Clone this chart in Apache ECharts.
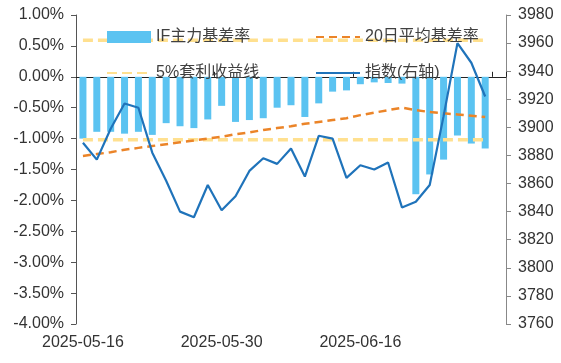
<!DOCTYPE html>
<html>
<head>
<meta charset="utf-8">
<script src="https://cdn.jsdelivr.net/npm/echarts@6/dist/echarts.min.js"></script>
<style>
html,body{margin:0;padding:0;background:#fff;}
#chart{width:561px;height:363px;}
</style>
</head>
<body>
<div id="chart"></div>
<script>
// ---- data ----
var dates = ['2025-05-16','2025-05-19','2025-05-20','2025-05-21','2025-05-22','2025-05-23',
  '2025-05-26','2025-05-27','2025-05-28','2025-05-29','2025-05-30','2025-06-03','2025-06-04',
  '2025-06-05','2025-06-06','2025-06-09','2025-06-10','2025-06-11','2025-06-12','2025-06-13',
  '2025-06-16','2025-06-17','2025-06-18','2025-06-19','2025-06-20','2025-06-23','2025-06-24',
  '2025-06-25','2025-06-26','2025-06-27','2025-06-30'];
var basisRate = [-1.00,-0.89,-0.89,-0.92,-0.89,-0.94,-0.75,-0.80,-0.83,-0.69,-0.47,-0.73,-0.70,
  -0.67,-0.50,-0.46,-0.65,-0.43,-0.24,-0.22,-0.12,-0.09,-0.10,-0.11,-1.90,-1.58,-1.34,-0.95,-1.08,-1.16];
var avg20Rate = [-1.28,-1.25,-1.22,-1.18,-1.15,-1.12,-1.09,-1.06,-1.03,-1.00,-0.97,-0.93,-0.90,
  -0.86,-0.83,-0.80,-0.76,-0.73,-0.70,-0.67,-0.62,-0.58,-0.54,-0.50,-0.54,-0.57,-0.59,-0.61,-0.63,-0.65];
var arbUpper = [0.59,0.59,0.59,0.59,0.59,0.59,0.59,0.59,0.59,0.59,0.59,0.59,0.59,0.59,0.59,
  0.59,0.59,0.59,0.59,0.59,0.59,0.59,0.59,0.59,0.59,0.59,0.59,0.59,0.59,0.59];
var arbLower = [-1.02,-1.02,-1.02,-1.02,-1.02,-1.02,-1.02,-1.02,-1.02,-1.02,-1.02,-1.02,-1.02,-1.02,-1.02,
  -1.02,-1.02,-1.02,-1.02,-1.02,-1.02,-1.02,-1.02,-1.02,-1.02,-1.02,-1.02,-1.02,-1.02,-1.02];
var indexValues = [3889,3877,3899,3917,3914,3882,3862,3840,3836,3859,3841,3851,3869,3878,3874,
  3885,3865,3894,3892,3864,3873,3870,3875,3843,3847,3859,3908,3960,3946,3922];
var leftTicks = {min:-4, max:1, interval:0.5};
var rightTicks = {min:3760, max:3980, interval:20};
var names = ['IF主力基差率','20日平均基差率','5%套利收益线','指数(右轴)'];

var FONT = '"Liberation Sans", Arial, "Noto Sans CJK SC", sans-serif';
var chart = echarts.init(document.getElementById('chart'), null, {renderer:'canvas'});

function legendAt(name, left, top, isLine) {
  var l = {
    data:[name], left:left, top:top, itemWidth:44, itemHeight:12, itemGap:0,
    textStyle:{fontSize:16, color:'#404040', fontFamily:FONT},
    selectedMode:false
  };
  if (isLine) { l.itemStyle = {opacity:0, borderWidth:0}; } else { l.icon = 'rect'; }
  return l;
}

var option = {
  animation:false,
  backgroundColor:'#fff',
  textStyle:{fontFamily:FONT},
  grid:{left:76, right:55, top:15, bottom:39, containLabel:false},
  legend:[
    legendAt(names[0], 102, 24, false),
    legendAt(names[1], 310, 24, true),
    legendAt(names[2], 101, 60, true),
    legendAt(names[3], 310, 60, true)
  ],
  xAxis:[
    {
      type:'category', data:dates, position:'bottom', boundaryGap:true,
      axisLine:{show:false, onZero:false},
      axisTick:{show:false},
      axisLabel:{
        interval:function(i){return i % 10 === 0 && i < 30;},
        fontSize:16, color:'#333', margin:11, fontFamily:FONT
      },
      splitLine:{show:false}
    },
    {
      type:'category', data:dates, position:'bottom', boundaryGap:true,
      axisLine:{show:true, onZero:true, onZeroAxisIndex:0, lineStyle:{color:'#222', width:1}},
      axisTick:{show:true, inside:true, length:5, lineStyle:{color:'#222'},
        interval:function(i){return i % 10 === 0 && i > 0;}},
      axisLabel:{show:false},
      splitLine:{show:false}
    }
  ],
  yAxis:[
    {
      type:'value', position:'left', min:leftTicks.min, max:leftTicks.max, interval:leftTicks.interval,
      axisLine:{show:true, lineStyle:{color:'#555', width:1}},
      axisTick:{show:true, inside:false, length:5, lineStyle:{color:'#555'}},
      axisLabel:{formatter:function(v){return v.toFixed(2)+'%';}, fontSize:16, color:'#333', margin:12, fontFamily:FONT},
      splitLine:{show:false}
    },
    {
      type:'value', position:'right', min:rightTicks.min, max:rightTicks.max, interval:rightTicks.interval,
      axisLine:{show:true, lineStyle:{color:'#888', width:1}},
      axisTick:{show:true, inside:false, length:5, lineStyle:{color:'#888'}},
      axisLabel:{formatter:function(v){return String(v);}, fontSize:16, color:'#333', margin:12, fontFamily:FONT},
      splitLine:{show:false}
    }
  ],
  series:[
    {
      name:names[0], type:'bar', data:basisRate, xAxisIndex:0, yAxisIndex:0,
      barWidth:7, itemStyle:{color:'#5BC3F1'}, z:2
    },
    {
      name:names[2], type:'line', data:arbUpper, xAxisIndex:0, yAxisIndex:0,
      symbol:'none', lineStyle:{color:'#FFE08F', width:3.5, type:[10,5]}, itemStyle:{color:'#FFE08F'}, z:3
    },
    {
      name:names[2], type:'line', data:arbLower, xAxisIndex:0, yAxisIndex:0,
      symbol:'none', lineStyle:{color:'#FFE08F', width:3.5, type:[10,5]}, itemStyle:{color:'#FFE08F'}, z:3
    },
    {
      name:names[1], type:'line', data:avg20Rate, xAxisIndex:0, yAxisIndex:0,
      symbol:'none', lineStyle:{color:'#EB8428', width:2.5, type:[8,5]}, itemStyle:{color:'#EB8428'}, z:4
    },
    {
      name:names[3], type:'line', data:indexValues, xAxisIndex:0, yAxisIndex:1,
      symbol:'none', lineStyle:{color:'#1F73BA', width:2.2}, itemStyle:{color:'#1F73BA'}, z:5
    }
  ]
};
chart.setOption(option);
</script>
</body>
</html>
